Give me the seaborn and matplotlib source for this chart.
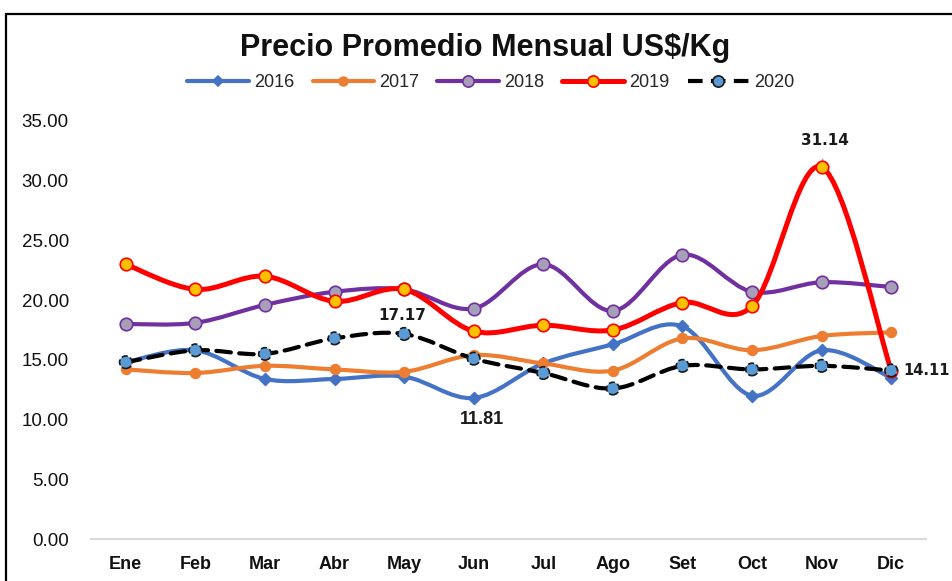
import numpy as np
import pandas as pd
import matplotlib
matplotlib.use("Agg")
import matplotlib.pyplot as plt
from matplotlib.path import Path
from matplotlib.patches import PathPatch, Rectangle
from matplotlib.lines import Line2D
import seaborn as sns

months = ["Ene", "Feb", "Mar", "Abr", "May", "Jun", "Jul", "Ago", "Set", "Oct", "Nov", "Dic"]
y2016 = [14.8, 15.8, 13.4, 13.4, 13.6, 11.81, 14.7, 16.3, 17.8, 12.0, 15.8, 13.5]
y2017 = [14.2, 13.9, 14.5, 14.2, 14.0, 15.4, 14.7, 14.1, 16.8, 15.8, 17.0, 17.3]
y2018 = [18.0, 18.1, 19.6, 20.7, 20.9, 19.3, 23.0, 19.1, 23.8, 20.7, 21.5, 21.1]
y2019 = [23.0, 20.9, 22.0, 19.9, 20.9, 17.4, 17.9, 17.5, 19.8, 19.5, 31.14, 14.1]
y2020 = [14.8, 15.8, 15.5, 16.8, 17.17, 15.1, 13.9, 12.6, 14.5, 14.2, 14.5, 14.11]
years = ["2016", "2017", "2018", "2019", "2020"]

series = dict(zip(years, [y2016, y2017, y2018, y2019, y2020]))
df = pd.DataFrame([(y, i, v) for y, vals in series.items() for i, v in enumerate(vals)],
                  columns=["year", "idx", "value"])

styles = {
    "2016": dict(color="#4472c4", lw=3.0, ls="-", mfc="#4472c4", mec="#4472c4", marker="D", ms=6),
    "2017": dict(color="#ed7d31", lw=3.0, ls="-", mfc="#ed7d31", mec="#ed7d31", marker="o", ms=7),
    "2018": dict(color="#7030a0", lw=3.0, ls="-", mfc="#a79fb8", mec="#7030a0", marker="o", ms=9),
    "2019": dict(color="#ff0000", lw=3.6, ls="-", mfc="#ffc000", mec="#ff0000", marker="o", ms=9),
    "2020": dict(color="#000000", lw=3.0, ls=(0, (3.5, 2)), mfc="#5b9bd5", mec="#1a1a1a", marker="o", ms=9),
}

sns.set_theme(style="white")
plt.rcParams["font.family"] = ["Liberation Sans", "DejaVu Sans"]

fig = plt.figure(figsize=(9.52, 5.81), dpi=100)
W, H = 952, 581
ax = fig.add_axes([91 / W, 1 - 539 / H, (926 - 91) / W, (539 - 121) / H])

# frame around chart area
fig.patches.append(Rectangle((6 / W, -0.1), 1.2, 1 - 14 / H + 0.1, transform=fig.transFigure,
                             fill=False, edgecolor="black", linewidth=1.6, zorder=0))


def smooth_path(xs, ys):
    pts = np.column_stack([xs, ys]).astype(float)
    n = len(pts)
    verts = [pts[0]]
    codes = [Path.MOVETO]
    for i in range(n - 1):
        p0 = pts[i - 1] if i > 0 else pts[i]
        p1 = pts[i]
        p2 = pts[i + 1]
        p3 = pts[i + 2] if i + 2 < n else pts[i + 1]
        c1 = p1 + (p2 - p0) / 6.0
        c2 = p2 - (p3 - p1) / 6.0
        verts += [c1, c2, p2]
        codes += [Path.CURVE4] * 3
    return Path(verts, codes)


order_z = {"2016": 3, "2017": 4, "2018": 5, "2019": 6, "2020": 7}
for y in years:
    st = styles[y]
    sub = df[df.year == y]
    patch = PathPatch(smooth_path(sub.idx.values, sub.value.values), facecolor="none",
                      edgecolor=st["color"], lw=st["lw"], linestyle=st["ls"],
                      capstyle="round", joinstyle="round", zorder=order_z[y])
    ax.add_patch(patch)
    sns.scatterplot(data=sub, x="idx", y="value", ax=ax, marker=st["marker"], s=st["ms"] ** 2,
                    color=st["mfc"], edgecolor=st["mec"], linewidth=1.2,
                    linestyle="--" if y == "2020" else "-", zorder=order_z[y] + 0.5, legend=False)

ax.set_xlim(-0.5, 11.5)
ax.set_ylim(0, 35)
ax.set_xticks(range(12))
ax.set_xticklabels(months, fontsize=13, fontweight="bold", color="#111111")
ax.set_yticks(np.arange(0, 36, 5))
ax.set_yticklabels([f"{v:.2f}" for v in np.arange(0, 36, 5)], fontsize=13.5, color="#111111")
ax.tick_params(axis="x", length=0, pad=12)
ax.tick_params(axis="y", length=0, pad=16)
ax.set_xlabel("")
ax.set_ylabel("")
for s in ["top", "right", "left"]:
    ax.spines[s].set_visible(False)
ax.spines["bottom"].set_color("#d9d9d9")
ax.spines["bottom"].set_linewidth(1.5)
ax.patch.set_alpha(0)

# data labels
lbl = dict(fontsize=11, fontweight="bold", color="#1a1a1a", family=["DejaVu Sans"])
ax.annotate("31.14", xy=(10, 31.14), xytext=(10.05, 33.4), ha="center", va="center",
            arrowprops=dict(arrowstyle="-", color="#a0a0a0", lw=1, shrinkA=6, shrinkB=4), **lbl)
ax.text(3.97, 18.7, "17.17", ha="center", va="center", **lbl)
ax.text(5.12, 10.0, "11.81", ha="center", va="center", fontsize=13, fontweight="bold",
        color="#1a1a1a")
ax.text(11.18, 14.1, "14.11", ha="left", va="center", clip_on=False,
        fontsize=10.5, fontweight="bold", color="#1a1a1a", family=["DejaVu Sans"])

fig.text(485 / W, 1 - 48 / H, "Precio Promedio Mensual US$/Kg", ha="center", va="center",
         fontsize=22, fontweight="bold", color="#111111")

handles = []
for y in years:
    st = styles[y]
    handles.append(Line2D([0], [0], color=st["color"], lw=st["lw"], linestyle=st["ls"],
                          marker=st["marker"], markersize=st["ms"] * 0.9, markerfacecolor=st["mfc"],
                          markeredgecolor=st["mec"], markeredgewidth=1.2))
fig.legend(handles, years, loc="center", bbox_to_anchor=(491 / W, 1 - 83 / H), ncol=5,
           frameon=False, fontsize=13, handlelength=3.4, handletextpad=0.3, columnspacing=1.0)

fig.savefig("out.png", dpi=100)
